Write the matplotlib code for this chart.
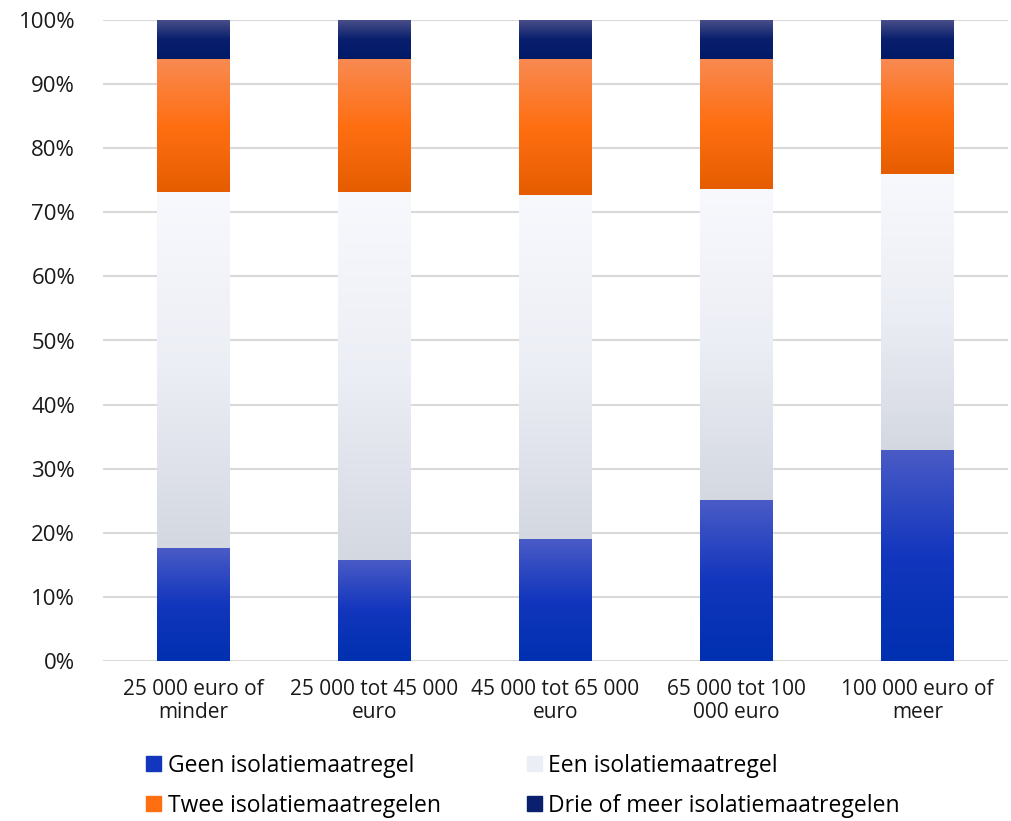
import matplotlib.pyplot as plt
import matplotlib.patches as mpatches
import numpy as np
from matplotlib.colors import LinearSegmentedColormap

plt.rcParams['font.family'] = ['Open Sans', 'DejaVu Sans']

categories = ['25 000 euro of\nminder', '25 000 tot 45 000\neuro', '45 000 tot 65 000\neuro',
              '65 000 tot 100\n000 euro', '100 000 euro of\nmeer']
geen = [17.6, 15.8, 19.0, 25.1, 32.9]
een = [55.6, 57.4, 53.7, 48.5, 43.1]
twee = [20.7, 20.7, 21.2, 20.3, 17.9]
drie = [6.1, 6.1, 6.1, 6.1, 6.1]

series = [
    ('Geen isolatiemaatregel', geen, ['#4a5bc6', '#1236bd', '#0030b0']),
    ('Een isolatiemaatregel', een, ['#f8f9fd', '#eceef5', '#d4d8e1']),
    ('Twee isolatiemaatregelen', twee, ['#f88a52', '#ff6f12', '#e55d00']),
    ('Drie of meer isolatiemaatregelen', drie, ['#4c5189', '#0a1f6e', '#001a66']),
]

fig = plt.figure(figsize=(10.11, 8.21), dpi=100)
ax = fig.add_axes([103 / 1011, 160 / 821, 905 / 1011, 641 / 821])

width = 0.40
x = np.arange(len(categories))
bottom = np.zeros(len(categories))
handles = []
for name, vals, cols in series:
    cmap = LinearSegmentedColormap.from_list(name, cols[::-1])
    grad = np.linspace(1, 0, 256).reshape(-1, 1)
    bars = ax.bar(x, vals, width, bottom=bottom, color='none', edgecolor='none', zorder=3)
    for b in bars:
        x0, y0 = b.get_x(), b.get_y()
        ax.imshow(grad, cmap=cmap, aspect='auto', interpolation='bilinear',
                  extent=(x0, x0 + b.get_width(), y0, y0 + b.get_height()),
                  zorder=3, vmin=0, vmax=1)
    bottom += np.array(vals)
    handles.append(mpatches.Patch(color=cols[1], label=name))

ax.set_xlim(-0.5, len(categories) - 0.5)
ax.set_ylim(0, 100)
ax.set_yticks(np.arange(0, 101, 10))
ax.set_yticklabels([f'{v}%' for v in range(0, 101, 10)])
ax.set_xticks(x)
ax.set_xticklabels(categories, linespacing=1.1)
ax.grid(axis='y', color='#d9d9d9', linewidth=1.5, zorder=0)
ax.set_axisbelow(True)
for s in ax.spines.values():
    s.set_visible(False)
ax.tick_params(axis='both', length=0, labelsize=15, colors='#1a1a1a')
ax.tick_params(axis='y', labelsize=16, pad=20)
ax.tick_params(axis='x', pad=13)

# legend fills column-wise, so reorder to get Geen/Een on the first row
order = [0, 2, 1, 3]
fig.legend(handles=[handles[i] for i in order], loc='lower left', bbox_to_anchor=(0.124, -0.021),
           ncol=2, frameon=False, fontsize=16.5, handlelength=0.65, handleheight=0.65,
           handletextpad=0.3, columnspacing=3.75, labelspacing=0.7)

fig.savefig('out.png', dpi=100)
